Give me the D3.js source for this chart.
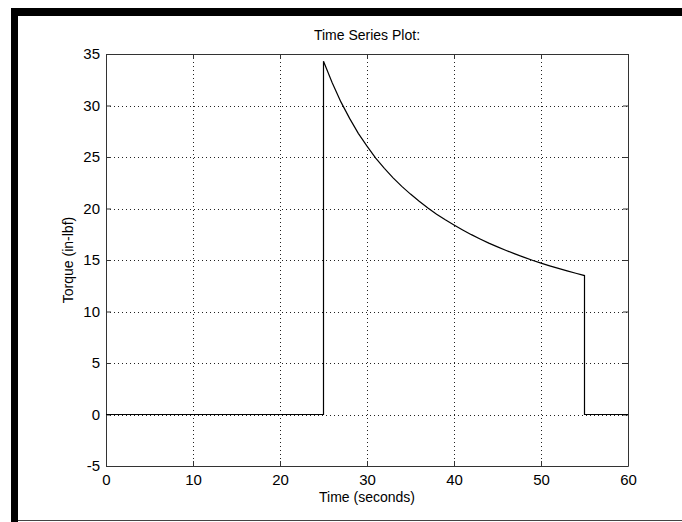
<!DOCTYPE html>
<html>
<head>
<meta charset="utf-8">
<script src="https://cdn.jsdelivr.net/npm/d3@7"></script>
<style>
  html, body { margin: 0; padding: 0; background: #fff; }
  svg { display: block; }
  text { font-family: "Liberation Sans", Arial, sans-serif; fill: #000; }
</style>
</head>
<body>
<svg id="chart" width="682" height="522"></svg>
<script>
// ---- data ----
const timeValues = [0, 25, 25, 26, 27, 28, 29, 30, 31, 32, 33, 34, 35, 36, 37, 38, 39, 40,
  41, 42, 43, 44, 45, 46, 47, 48, 49, 50, 51, 52, 53, 54, 55, 55, 60];
const torqueValues = [0, 0, 34.3, 32.2, 30.35, 28.75, 27.3, 26.05, 24.9, 23.9, 22.98, 22.15,
  21.4, 20.7, 20.05, 19.45, 18.9, 18.4, 17.92, 17.46, 17.04, 16.64, 16.27, 15.92, 15.59,
  15.28, 14.98, 14.7, 14.43, 14.18, 13.94, 13.71, 13.49, 0, 0];
const xTicks = [0, 10, 20, 30, 40, 50, 60];
const yTicks = [-5, 0, 5, 10, 15, 20, 25, 30, 35];
const titleText = "Time Series Plot:";
const xLabelText = "Time (seconds)";
const yLabelText = "Torque (in-lbf)";

const svg = d3.select("#chart");

// frame decoration (black border like the screenshot)
svg.append("rect").attr("x", 11).attr("y", 8).attr("width", 671).attr("height", 8).attr("fill", "#000");
svg.append("rect").attr("x", 11).attr("y", 8).attr("width", 7).attr("height", 514).attr("fill", "#000");
svg.append("line").attr("x1", 18).attr("x2", 682).attr("y1", 520.5).attr("y2", 520.5)
  .attr("stroke", "#444").attr("stroke-width", 1);

const L = 106, R = 628, T = 54, B = 466;
const x = d3.scaleLinear().domain([0, 60]).range([L, R]);
const y = d3.scaleLinear().domain([-5, 35]).range([B, T]);

const g = svg.append("g");

// grid
const gridStyle = sel => sel.attr("stroke", "#222").attr("stroke-width", 1)
  .attr("stroke-dasharray", "1,3").attr("fill", "none");
g.selectAll("line.gx").data(xTicks.filter(d => d > 0 && d < 60)).join("line")
  .attr("x1", d => Math.round(x(d)) + 0.5).attr("x2", d => Math.round(x(d)) + 0.5)
  .attr("y1", T).attr("y2", B).call(gridStyle);
g.selectAll("line.gy").data(yTicks.filter(d => d > -5 && d < 35)).join("line")
  .attr("y1", d => Math.round(y(d)) + 0.5).attr("y2", d => Math.round(y(d)) + 0.5)
  .attr("x1", L).attr("x2", R).call(gridStyle);

// axes (MATLAB-like box with inward ticks on all sides)
const fmt = d => String(d);
const axB = d3.axisBottom(x).tickValues(xTicks).tickFormat(fmt).tickSizeInner(-5).tickSizeOuter(0).tickPadding(8);
const axL = d3.axisLeft(y).tickValues(yTicks).tickFormat(fmt).tickSizeInner(-5).tickSizeOuter(0).tickPadding(6);
const axT = d3.axisTop(x).tickValues(xTicks).tickSizeInner(-5).tickSizeOuter(0).tickFormat("");
const axR = d3.axisRight(y).tickValues(yTicks).tickSizeInner(-5).tickSizeOuter(0).tickFormat("");

function styleAxis(sel) {
  sel.selectAll("path").attr("stroke", "#333");
  sel.selectAll("line").attr("stroke", "#333");
  sel.selectAll("text").style("font-family", '"Liberation Sans", Arial, sans-serif')
    .style("font-size", "15px").attr("fill", "#000");
}
g.append("g").attr("transform", `translate(0,${B})`).call(axB).call(styleAxis);
g.append("g").attr("transform", `translate(${L},0)`).call(axL).call(styleAxis);
g.append("g").attr("transform", `translate(0,${T})`).call(axT).call(styleAxis);
g.append("g").attr("transform", `translate(${R},0)`).call(axR).call(styleAxis);

// data line
const pts = timeValues.map((t, i) => [t, torqueValues[i]]);
const line = d3.line().x(d => x(d[0])).y(d => y(d[1])).curve(d3.curveLinear);
g.append("path").datum(pts).attr("d", line)
  .attr("fill", "none").attr("stroke", "#000").attr("stroke-width", 1.2);

// labels
svg.append("text").attr("x", (L + R) / 2).attr("y", 40).attr("text-anchor", "middle")
  .style("font-size", "14px").text(titleText);
svg.append("text").attr("x", (L + R) / 2).attr("y", 502).attr("text-anchor", "middle")
  .style("font-size", "14px").text(xLabelText);
svg.append("text").attr("transform", `translate(73,${(T + B) / 2}) rotate(-90)`)
  .attr("text-anchor", "middle").style("font-size", "14px").text(yLabelText);
</script>
</body>
</html>
